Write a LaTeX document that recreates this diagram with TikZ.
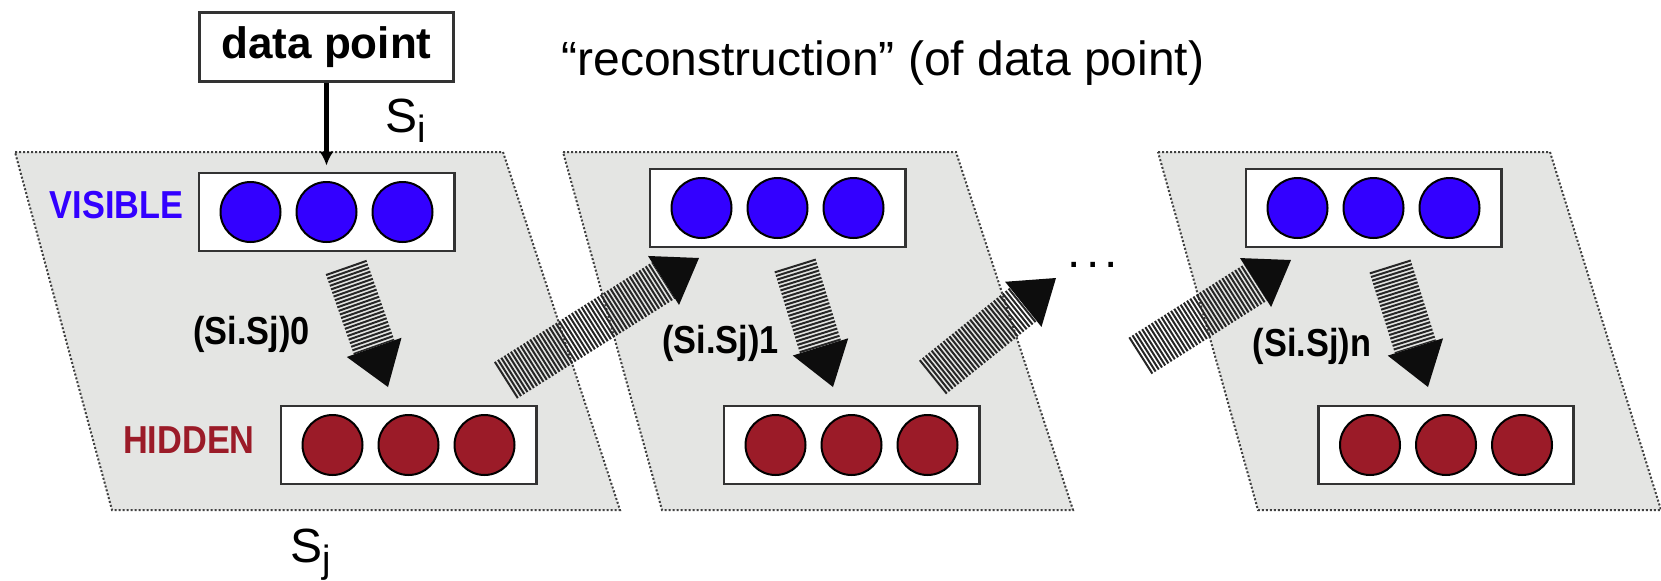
\documentclass[tikz,border=0pt]{standalone}
\usepackage{fontspec}
\setmainfont{Liberation Sans}
\newfontfamily\narrowfont{Liberation Sans}[FakeStretch=0.88]
\usetikzlibrary{calc,arrows.meta}
\definecolor{visblue}{RGB}{51,0,255}
\definecolor{hidred}{RGB}{155,27,40}
\definecolor{panelgray}{RGB}{228,229,227}
\tikzstyle{panel}=[fill=panelgray, draw=black!75, densely dotted, line width=1pt]
\tikzstyle{layerbox}=[draw=black!80, line width=1.4pt, fill=white, minimum width=127.6pt, minimum height=39pt, inner sep=0pt]
\tikzstyle{unit}=[circle, draw=black, line width=1pt, minimum size=30pt, inner sep=0pt]
\tikzstyle{shaft}=[black!85, line width=21.5pt, dash pattern=on 1pt off 0.9pt]
\tikzstyle{lbl}=[inner sep=0pt, font=\narrowfont\bfseries\fontsize{19.5}{19.5}\selectfont]
\tikzstyle{big}=[inner sep=0pt, font=\fontsize{24}{24}\selectfont]
\newcommand{\sub}[1]{\raisebox{-5pt}{\fontsize{19}{19}\selectfont #1}}
\newcommand{\layerrow}[4]{%
	\node[layerbox] (#1) at (#2,#3) {};
	\node[unit, fill=#4] (#1a) at (#2-76,#3) {};
	\node[unit, fill=#4] (#1b) at (#2,#3) {};
	\node[unit, fill=#4] (#1c) at (#2+76,#3) {};
}
\newcommand{\blockarrow}[2]{%
	\coordinate (hb) at ($(#2)!21pt!(#1)$);
	\draw[shaft] (#1) -- (hb);
	\fill[black!95] (#2) -- ($(hb)!14.5pt!90:(#2)$) -- ($(hb)!14.5pt!-90:(#2)$) -- cycle;
}

\begin{document}
\begin{tikzpicture}[x=0.5pt, y=-0.5pt]
	\useasboundingbox (0,0) rectangle (1661,580);
	% the three steps of the chain
	\draw[panel] (15,152) -- (503,152) -- (620,510) -- (112,510) -- cycle;
	\draw[panel] (563,152) -- (956,152) -- (1073,510) -- (662,510) -- cycle;
	\draw[panel] (1158,152) -- (1550,152) -- (1661,510) -- (1258,510) -- cycle;

	\node[draw=black!80, line width=1.4pt, fill=white, minimum width=127pt, minimum height=34.6pt, inner sep=0pt,
		font=\bfseries\fontsize{22}{22}\selectfont] (dp) at (326.5,47) {data point};
	\node[big, anchor=base west] (rec) at (561,75) {“reconstruction” (of data point)};
	\node[big, anchor=base west] (si) at (385,132) {S\sub{i}};
	\node[big, anchor=base west] (sj) at (290,562) {S\sub{j}};
	\node[big, anchor=base] (dots) at (1093,267) {.\kern2.6pt.\kern2.6pt.};

	\node[lbl, text=visblue] (vlab) at (116.5,205.5) {VISIBLE};
	\node[lbl, text=hidred] (hlab) at (189,440.5) {HIDDEN};
	\node[lbl] (k0) at (251.5,334.5) {(Si.Sj)0};
	\node[lbl] (k1) at (720.5,343) {(Si.Sj)1};
	\node[lbl] (kn) at (1312,346.5) {(Si.Sj)n};

	\layerrow{v0}{326.5}{212}{visblue}
	\layerrow{h0}{408.5}{445}{hidred}
	\layerrow{v1}{777.5}{208}{visblue}
	\layerrow{h1}{851.5}{445}{hidred}
	\layerrow{vn}{1373.5}{208}{visblue}
	\layerrow{hn}{1446}{445}{hidred}

	\draw[line width=2.2pt, -{Latex[length=7pt,width=7pt]}, shorten >=3pt] (dp) -- (v0);

	\coordinate (d0s) at (346,267);  \coordinate (d0e) at (388,387);
	\coordinate (d1s) at (795,265);  \coordinate (d1e) at (833,387);
	\coordinate (dns) at (1390,266); \coordinate (dne) at (1428,387);
	\coordinate (a1s) at (505.5,380.5); \coordinate (a1e) at (699,258);
	\coordinate (a2s) at (932.5,377.5); \coordinate (a2e) at (1056,278);
	\coordinate (a3s) at (1140,356);    \coordinate (a3e) at (1291,260);
	\blockarrow{d0s}{d0e}
	\blockarrow{d1s}{d1e}
	\blockarrow{dns}{dne}
	\blockarrow{a1s}{a1e}
	\blockarrow{a2s}{a2e}
	\blockarrow{a3s}{a3e}
\end{tikzpicture}
\end{document}
